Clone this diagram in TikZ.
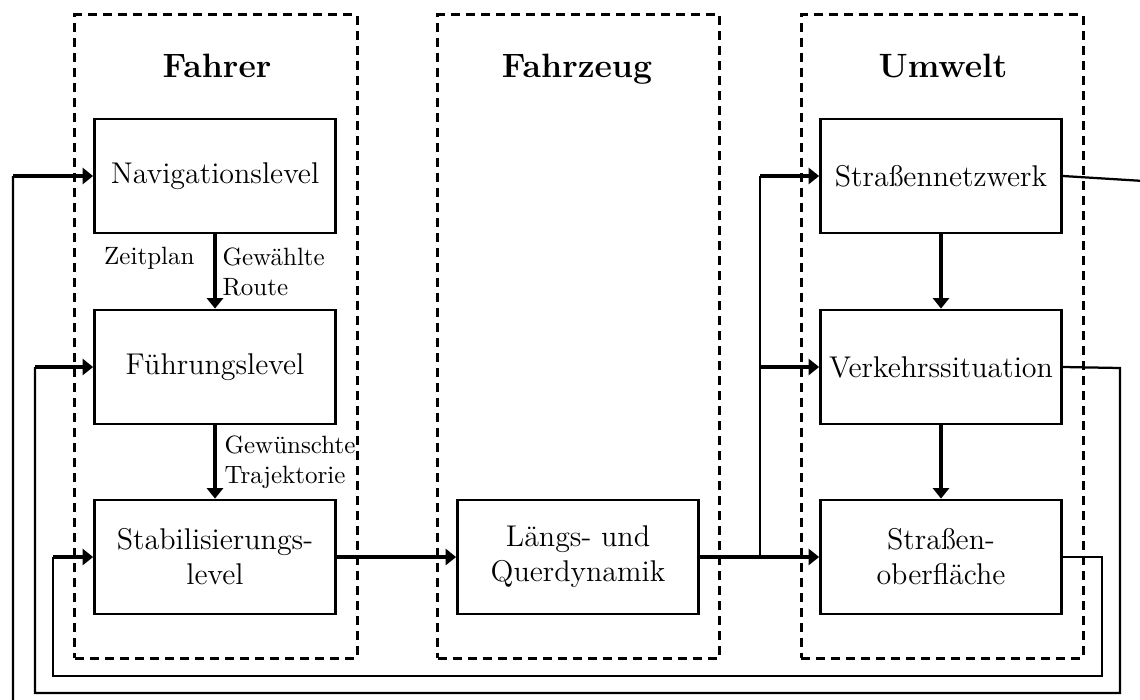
\documentclass[tikz,border=0pt]{standalone}
\usetikzlibrary{arrows.meta}
\begin{document}
\begin{tikzpicture}[x=0.4pt,y=-0.4pt,
  block/.style={draw,line width=1.1pt,minimum width=96.4pt,minimum height=45.6pt,
    align=center,font=\large,inner sep=2pt},
  frame/.style={draw,line width=1.2pt,dash pattern=on 3.6pt off 2.4pt,
    minimum width=112.8pt,minimum height=257.2pt,inner sep=0pt},
  title/.style={font=\fontsize{13.5}{16}\selectfont\bfseries,anchor=base},
  lbl/.style={inner sep=0pt,align=left},
  flow/.style={line width=1.3pt,-{Triangle[length=4.2pt,width=6.4pt]}},
  back/.style={line width=0.9pt},
]
\useasboundingbox (0,0) rectangle (1140,700);
\clip (0,0) rectangle (1140,700);

% group frames
\node[frame] (fFahrer)   at (216,336.5) {};
\node[frame] (fFahrzeug) at (578.5,336.5) {};
\node[frame] (fUmwelt)   at (942,336.5) {};
\node[title] (tFahrer)   at (217,77) {Fahrer};
\node[title] (tFahrzeug) at (577,77) {Fahrzeug};
\node[title] (tUmwelt)   at (943,77) {Umwelt};

% driver levels
\node[block] (nav)  at (215,176) {Navigationslevel};
\node[block] (fue)  at (215,367) {Führungslevel};
\node[block] (stab) at (215,557) {Stabilisierungs-\\level};
% vehicle
\node[block] (veh)  at (578,557) {Längs- und\\Querdynamik};
% environment
\node[block] (net)  at (941,176) {Straßennetzwerk};
\node[block] (verk) at (941,367) {Verkehrssituation};
\node[block] (ober) at (941,557) {Straßen-\\oberfläche};

% labels on the driver arrows
\node[lbl,anchor=north east] (lZeit) at (195,247) {Zeitplan};
\node[lbl,anchor=north west] (lRoute) at (222,247) {Gewählte\\Route};
\node[lbl,anchor=north west] (lTraj) at (224,435) {Gewünschte\\Trajektorie};

% forward flow
\draw[flow] (nav) -- (fue);
\draw[flow] (fue) -- (stab);
\draw[flow] (net) -- (verk);
\draw[flow] (verk) -- (ober);
\draw[flow] (stab) -- (veh);
\draw[flow] (veh) -- (ober);

% branch from vehicle to road network and traffic
\coordinate (br)  at (760,557);
\coordinate (brN) at (760,176);
\coordinate (brV) at (760,367);
\draw[back] (br) -- (brN);
\draw[flow] (brN) -- (net);
\draw[flow] (brV) -- (verk);

% feedback: road network -> navigation
\coordinate (a1) at (1160,182);
\coordinate (a2) at (1160,720);
\coordinate (a3) at (13,720);
\coordinate (a4) at (13,176);
\draw[back] (net.east) -- (a1) -- (a2) -- (a3) -- (a4);
\draw[flow] (a4) -- (nav);

% feedback: traffic -> guidance
\coordinate (b1) at (1120,368);
\coordinate (b2) at (1120,693);
\coordinate (b3) at (35,693);
\coordinate (b4) at (35,367);
\draw[back] (verk.east) -- (b1) -- (b2) -- (b3) -- (b4);
\draw[flow] (b4) -- (fue);

% feedback: road surface -> stabilisation
\coordinate (c1) at (1102,557);
\coordinate (c2) at (1102,676);
\coordinate (c3) at (53,676);
\coordinate (c4) at (53,557);
\draw[back] (ober.east) -- (c1) -- (c2) -- (c3) -- (c4);
\draw[flow] (c4) -- (stab);
\end{tikzpicture}
\end{document}
